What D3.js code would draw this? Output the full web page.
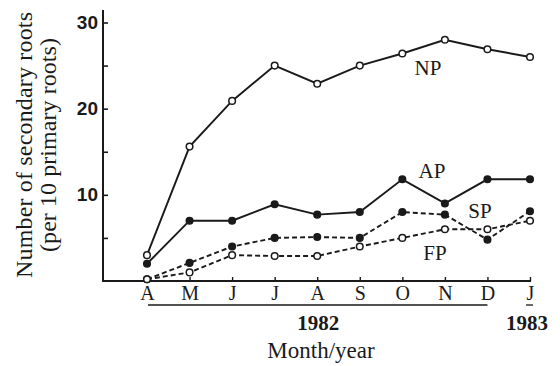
<!DOCTYPE html>
<html>
<head>
<meta charset="utf-8">
<script src="https://cdn.jsdelivr.net/npm/d3@7"></script>
<style>
  html, body { margin: 0; padding: 0; background: #fff; }
  svg { display: block; }
  text { fill: #1a1a1a; }
</style>
</head>
<body>
<svg id="chart" width="560" height="366"></svg>
<script>
// Month ticks (April 1982 – January 1983)
const months = ["A", "M", "J", "J", "A", "S", "O", "N", "D", "J"];
// Number of secondary roots per 10 primary roots
const npValues = [3, 15.6, 20.9, 25, 22.9, 25, 26.4, 28, 26.9, 26];
const apValues = [2, 7, 7, 8.9, 7.7, 8, 11.8, 9, 11.8, 11.8];
const spValues = [0.2, 2.1, 4, 5, 5.1, 5, 8, 7.7, 4.8, 8.1];
const fpValues = [0.2, 1, 3, 2.9, 2.9, 4, 5, 6, 6, 7];
const yTicks = [5, 10, 15, 20, 25, 30];
const seriesNames = ["NP", "AP", "SP", "FP"];

const ink = "#1a1a1a";
const svg = d3.select("#chart");

const x = d3.scaleLinear().domain([0, months.length - 1]).range([147, 530]);
const y = d3.scaleLinear().domain([0, 30]).range([281, 22.5]);

const axisX0 = 103, axisYTop = 10, axisXEnd = 531;

// y axis
const yAxis = d3.axisLeft(y)
  .tickValues(yTicks)
  .tickSizeInner(-5)
  .tickSizeOuter(0)
  .tickPadding(5)
  .tickFormat(d => d % 10 === 0 ? d : "");
const gy = svg.append("g").attr("transform", `translate(${axisX0},0)`).call(yAxis);
gy.select(".domain").remove();
gy.selectAll(".tick line").attr("stroke", ink).attr("stroke-width", 1.6);
gy.selectAll(".tick text")
  .attr("font-family", "Liberation Sans, Arial, sans-serif")
  .attr("font-weight", "bold")
  .attr("font-size", 19)
  .attr("fill", ink);

// x axis
const xAxis = d3.axisBottom(x)
  .tickValues(d3.range(months.length))
  .tickSizeInner(-4)
  .tickSizeOuter(0)
  .tickPadding(5)
  .tickFormat(i => months[i]);
const gx = svg.append("g").attr("transform", `translate(0,${y(0)})`).call(xAxis);
gx.select(".domain").remove();
gx.selectAll(".tick line").attr("stroke", ink).attr("stroke-width", 1.4);
gx.selectAll(".tick text")
  .attr("font-family", "Liberation Serif, Times New Roman, serif")
  .attr("font-size", 20)
  .attr("fill", ink);

// axis frame lines
svg.append("path")
  .attr("d", `M${axisX0},${axisYTop}V${y(0)}H${axisXEnd}`)
  .attr("fill", "none")
  .attr("stroke", ink)
  .attr("stroke-width", 2);

// year bracket under the month labels
svg.append("line")
  .attr("x1", x(0) + 1).attr("x2", x(8))
  .attr("y1", 305).attr("y2", 305)
  .attr("stroke", ink).attr("stroke-width", 1.3);
svg.append("line")
  .attr("x1", x(9) - 4).attr("x2", x(9) + 3)
  .attr("y1", 305).attr("y2", 305)
  .attr("stroke", ink).attr("stroke-width", 1.3);

svg.append("text")
  .attr("x", (x(0) + x(8)) / 2 + 1).attr("y", 330)
  .attr("text-anchor", "middle")
  .attr("font-family", "Liberation Serif, Times New Roman, serif")
  .attr("font-weight", "bold")
  .attr("font-size", 21)
  .text("1982");
svg.append("text")
  .attr("x", x(9) - 3).attr("y", 330)
  .attr("text-anchor", "middle")
  .attr("font-family", "Liberation Serif, Times New Roman, serif")
  .attr("font-weight", "bold")
  .attr("font-size", 21)
  .text("1983");

svg.append("text")
  .attr("x", 321).attr("y", 358)
  .attr("text-anchor", "middle")
  .attr("font-family", "Liberation Serif, Times New Roman, serif")
  .attr("font-size", 23)
  .text("Month/year");

// y axis title, two lines
const yTitle = [
  { text: "Number of secondary roots", bx: 32, len: 266 },
  { text: "(per 10 primary roots)", bx: 56, len: 214 }
];
yTitle.forEach(t => {
  svg.append("text")
    .attr("transform", `translate(${t.bx},145) rotate(-90)`)
    .attr("text-anchor", "middle")
    .attr("font-family", "Liberation Serif, Times New Roman, serif")
    .attr("font-size", 24)
    .attr("textLength", t.len)
    .attr("lengthAdjust", "spacing")
    .text(t.text);
});

// series
const series = [
  { name: seriesNames[0], values: npValues, dashed: false, filled: false, lx: 428, ly: 75 },
  { name: seriesNames[1], values: apValues, dashed: false, filled: true, lx: 432, ly: 178 },
  { name: seriesNames[2], values: spValues, dashed: true, filled: true, lx: 480, ly: 218 },
  { name: seriesNames[3], values: fpValues, dashed: true, filled: false, lx: 435, ly: 260 }
];

const line = d3.line().x((d, i) => x(i)).y(d => y(d));

series.forEach(s => {
  svg.append("path")
    .datum(s.values)
    .attr("d", line)
    .attr("fill", "none")
    .attr("stroke", ink)
    .attr("stroke-width", 1.9)
    .attr("stroke-dasharray", s.dashed ? "5,3" : null);
});

series.forEach(s => {
  svg.append("g").selectAll("circle")
    .data(s.values)
    .join("circle")
    .attr("cx", (d, i) => x(i))
    .attr("cy", d => y(d))
    .attr("r", 3.3)
    .attr("fill", s.filled ? ink : "#fff")
    .attr("stroke", ink)
    .attr("stroke-width", 1.5);

  svg.append("text")
    .attr("x", s.lx).attr("y", s.ly)
    .attr("text-anchor", "middle")
    .attr("font-family", "Liberation Serif, Times New Roman, serif")
    .attr("font-size", 21)
    .text(s.name);
});
</script>
</body>
</html>
